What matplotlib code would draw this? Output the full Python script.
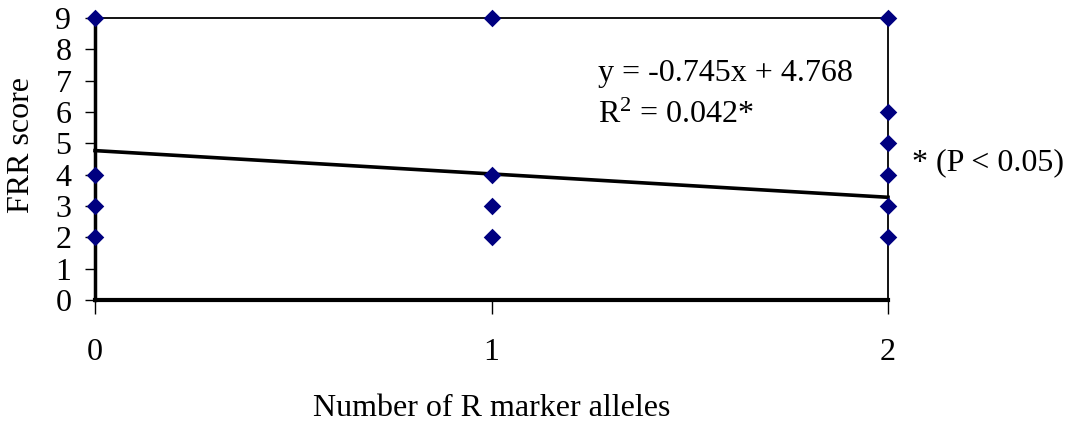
import matplotlib
matplotlib.use("Agg")
import matplotlib.pyplot as plt
import numpy as np

plt.rcParams['font.family'] = ['Liberation Serif', 'DejaVu Serif']
plt.rcParams['mathtext.fontset'] = 'custom'
plt.rcParams['mathtext.rm'] = 'Liberation Serif'
plt.rcParams['mathtext.it'] = 'Liberation Serif:italic'

# data
x0 = [0, 0, 0, 0]
y0 = [9, 4, 3, 2]
x1 = [1, 1, 1, 1]
y1 = [9, 4, 3, 2]
x2 = [2, 2, 2, 2, 2, 2]
y2 = [9, 6, 5, 4, 3, 2]
slope = -0.745
intercept = 4.768
xticks = [0, 1, 2]
yticks = list(range(0, 10))

FS = 23

fig = plt.figure(figsize=(10.68, 4.23), dpi=100)
ax = fig.add_axes([95/1068, 1-300/423, (888-95)/1068, (300-18)/423])

xs = np.array(x0 + x1 + x2)
ys = np.array(y0 + y1 + y2)

xl = np.array([0, 2])
ax.plot(xl, slope*xl + intercept, color='black', lw=2.6, zorder=3, clip_on=False)
ax.scatter(xs, ys, marker='D', s=80, color='#000080', zorder=5, clip_on=False, linewidths=0)

ax.set_xlim(0, 2)
ax.set_ylim(0, 9)
ax.set_xticks(xticks)
ax.set_yticks(yticks)
ax.tick_params(axis='y', direction='out', length=7, width=1, pad=10, labelsize=FS)
ax.tick_params(axis='x', direction='out', length=10, width=1, pad=17, labelsize=FS)

ax.spines['left'].set_linewidth(2.5)
ax.spines['bottom'].set_linewidth(3)
ax.spines['top'].set_linewidth(1.3)
ax.spines['right'].set_linewidth(1.3)
for s in ax.spines.values():
    s.set_zorder(2)

ax.set_ylabel('FRR score', fontsize=FS, va='center')
ax.yaxis.set_label_coords(-0.093, 0.55)
ax.set_xlabel('Number of R marker alleles', fontsize=FS, labelpad=20)

fig.text(598/1068, 1-73/423, 'y = -0.745x + 4.768', fontsize=FS, va='center', ha='left')
fig.text(598/1068, 1-115/423, 'R$^{2}$ = 0.042*', fontsize=FS, va='center', ha='left')
fig.text(912/1068, 1-163/423, '* (P < 0.05)', fontsize=FS, va='center', ha='left')

fig.savefig('out.png', dpi=100)
